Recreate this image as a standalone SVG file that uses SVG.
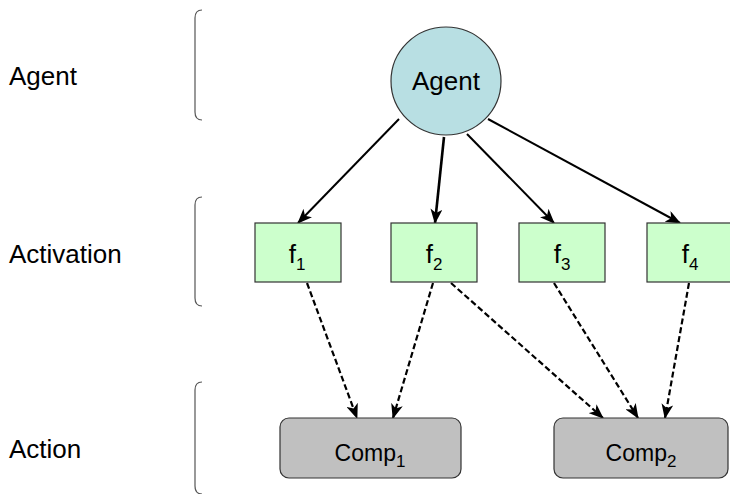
<svg xmlns="http://www.w3.org/2000/svg" width="730" height="494" viewBox="0 0 730 494">
<defs>
<style>
text{font-family:"Liberation Sans",Arial,sans-serif;fill:#000}
.lbl{font-size:26px}
.big{font-size:26px}
.sub{font-size:17px}
.comp{font-size:23px}
.brk{fill:none;stroke:#555;stroke-width:1.2}
.solid{fill:none;stroke:#000;stroke-width:2}
.dash{fill:none;stroke:#000;stroke-width:2.2;stroke-dasharray:6 3}
.box{fill:#ccffcc;stroke:#333;stroke-width:1.2}
.cbox{fill:#c0c0c0;stroke:#333;stroke-width:1.2}
</style>
<marker id="ah" markerUnits="userSpaceOnUse" markerWidth="15" markerHeight="12" viewBox="0 0 15 12" refX="14" refY="6" orient="auto">
<path d="M0,0 L15,6 L0,12 L4,6 z" fill="#000"/>
</marker>
</defs>
<rect width="730" height="494" fill="#fff"/>
<g id="labels">
<text class="lbl" x="9" y="85">Agent</text>
<text class="lbl" x="9" y="263">Activation</text>
<text class="lbl" x="9" y="458">Action</text>
</g>
<g id="brackets">
<path class="brk" d="M202,10 Q195,10 195,18 L195,112 Q195,120 202,120"/>
<path class="brk" d="M202,197 Q195,197 195,205 L195,298 Q195,306 202,306"/>
<path class="brk" d="M202,382 Q195,382 195,390 L195,486 Q195,494 202,494"/>
</g>
<g id="connectors">
<line class="solid" x1="399" y1="119" x2="298" y2="223" marker-end="url(#ah)"/>
<line class="solid" x1="444" y1="137" x2="435" y2="223" marker-end="url(#ah)" style="stroke-width:2.6"/>
<line class="solid" x1="467" y1="134" x2="554" y2="223" marker-end="url(#ah)"/>
<line class="solid" x1="488" y1="119" x2="680" y2="223" marker-end="url(#ah)"/>
<line class="dash" x1="307" y1="283" x2="357" y2="418" marker-end="url(#ah)"/>
<line class="dash" x1="433" y1="283" x2="393" y2="418" marker-end="url(#ah)"/>
<line class="dash" x1="451" y1="283" x2="603" y2="418" marker-end="url(#ah)"/>
<line class="dash" x1="554" y1="283" x2="638" y2="418" marker-end="url(#ah)"/>
<line class="dash" x1="689" y1="283" x2="665" y2="418" marker-end="url(#ah)"/>
</g>
<g id="agent">
<ellipse cx="446" cy="81" rx="55" ry="54" fill="#b8dfe3" stroke="#333" stroke-width="1.2"/>
<text class="big" x="446" y="90" text-anchor="middle">Agent</text>
</g>
<g id="f1">
<rect class="box" x="255" y="223" width="86" height="59"/>
<text class="big" x="297" y="263" text-anchor="middle">f<tspan class="sub" dy="7">1</tspan></text>
</g>
<g id="f2">
<rect class="box" x="391" y="223" width="86" height="59"/>
<text class="big" x="434" y="263" text-anchor="middle">f<tspan class="sub" dy="7">2</tspan></text>
</g>
<g id="f3">
<rect class="box" x="519" y="223" width="86" height="59"/>
<text class="big" x="562" y="263" text-anchor="middle">f<tspan class="sub" dy="7">3</tspan></text>
</g>
<g id="f4">
<rect class="box" x="647" y="223" width="86" height="59"/>
<text class="big" x="690" y="263" text-anchor="middle">f<tspan class="sub" dy="7">4</tspan></text>
</g>
<g id="comp1">
<rect class="cbox" x="280" y="418" width="181" height="60" rx="9"/>
<text class="comp" x="370" y="461" text-anchor="middle">Comp<tspan class="sub" dy="6">1</tspan></text>
</g>
<g id="comp2">
<rect class="cbox" x="554" y="418" width="174" height="60" rx="9"/>
<text class="comp" x="641" y="461" text-anchor="middle">Comp<tspan class="sub" dy="6">2</tspan></text>
</g>
</svg>
